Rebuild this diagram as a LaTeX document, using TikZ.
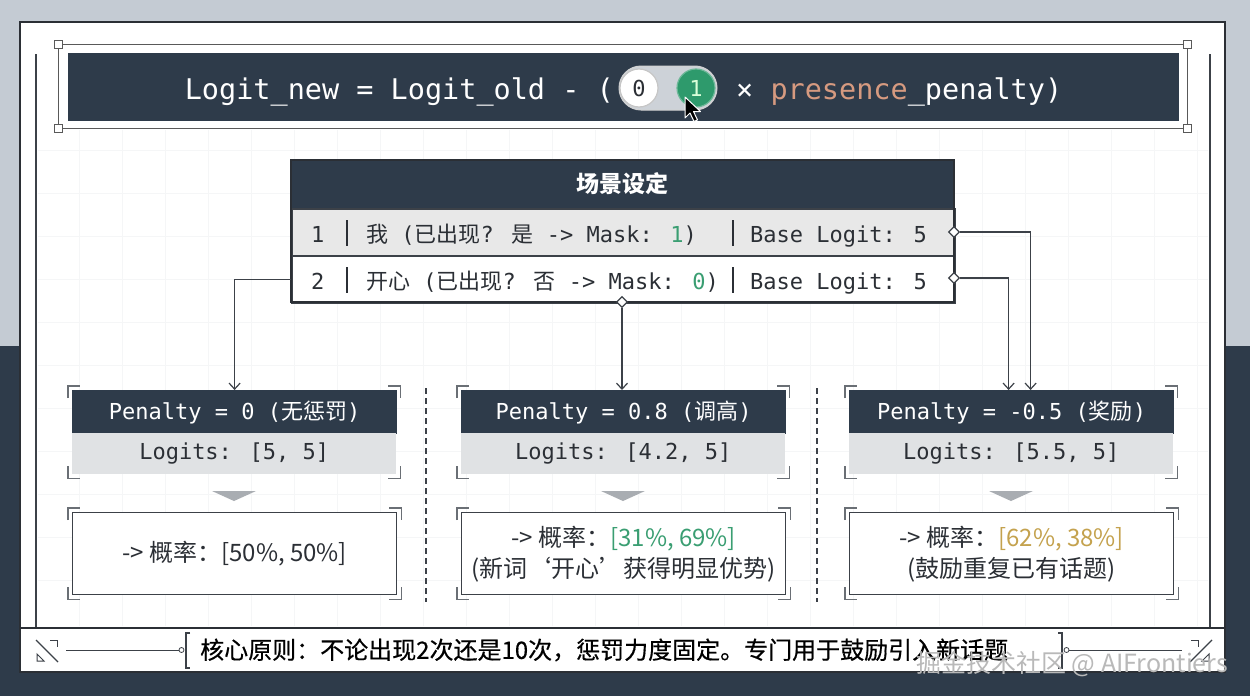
\documentclass[tikz,border=0pt]{standalone}
\usepackage{fontspec}
\setmainfont{DejaVu Sans}
\newfontfamily\mono{DejaVu Sans Mono}
\newfontfamily\cjk{Noto Sans CJK SC}
\newfontfamily\cjkfb{Noto Sans CJK SC}[FakeBold=0.5]
\usetikzlibrary{arrows.meta,shapes.geometric,calc}
\newcommand\zh[1]{{\cjk #1}}
\definecolor{bgtop}{HTML}{C4CBD3}
\definecolor{navy}{HTML}{2E3B4A}
\definecolor{ink}{HTML}{2B2F35}
\definecolor{linec}{HTML}{3C4148}
\definecolor{rowgray}{HTML}{E8E8E8}
\definecolor{logitgray}{HTML}{E0E2E4}
\definecolor{mgreen}{HTML}{2E9A6C}
\definecolor{tgreen}{HTML}{3A9E72}
\definecolor{gold}{HTML}{C4A24E}
\definecolor{salmon}{HTML}{D69A80}
\definecolor{trackc}{HTML}{CDD2D8}
\definecolor{brkc}{HTML}{6A6F75}
\definecolor{tric}{HTML}{A9ADB2}
\definecolor{gridc}{HTML}{F5F6F7}
\tikzset{
  hdrbox/.style={fill=navy, draw=navy, line width=1.2, inner sep=0, anchor=north west},
  rowbox/.style={draw=linec, line width=1.6, inner sep=0, anchor=north west},
  logitbox/.style={fill=logitgray, inner sep=0, anchor=north west, minimum width=324, minimum height=41},
  resbox/.style={fill=white, draw=linec, line width=1.4, inner sep=0, anchor=north west, minimum width=324, minimum height=82},
  bhdr/.style={hdrbox, minimum width=324, minimum height=43},
  wtxt/.style={text=white, font=\mono\fontsize{22}{26}\selectfont},
  dtxt/.style={text=ink, font=\mono\fontsize{22}{26}\selectfont},
  restxt/.style={text=ink, align=center, font=\cjk\fontsize{24}{31}\selectfont},
  conn/.style={draw=linec, line width=1.3, -{Straight Barb[length=6pt,width=11pt,line width=1.2pt]}},
  dmark/.style={diamond, draw=linec, fill=white, line width=1.2, minimum width=11, minimum height=11, inner sep=0},
  brkst/.style={draw=brkc, line width=1.6},
  divl/.style={draw=ink, line width=1.3},
  sep/.style={draw=linec, line width=1.2, dash pattern=on 6pt off 4pt},
  tri/.style={fill=tric},
}
% corner brackets around the region spanned by two nodes' anchors
\newcommand\brk[2]{%
  \path (#1) ++(-4,-4) coordinate (tl);
  \path (#2) ++(4,4) coordinate (br);
  \draw[brkst] ($(tl)+(0,12)$) -- (tl) -- ++(12,0);
  \draw[brkst] ($(tl -| br)+(-12,0)$) -- (tl -| br) -- ++(0,12);
  \draw[brkst] ($(tl |- br)+(0,-12)$) -- (tl |- br) -- ++(12,0);
  \draw[brkst] ($(br)+(-12,0)$) -- (br) -- ++(0,-12);
}
\begin{document}
\begin{tikzpicture}[x=1pt,y=-1pt]
\useasboundingbox (0,0) rectangle (1250,696);
% background bands
\fill[bgtop] (0,0) rectangle (1250,346);
\fill[navy] (0,346) rectangle (1250,696);
% main panel
\draw[fill=white, draw=ink, line width=1.6] (20,22) rectangle (1225,672);
% faint grid
\foreach \gx in {79,122,...,1200} \draw[gridc, line width=0.6] (\gx,130) -- (\gx,626);
\foreach \gy in {150,193,...,620} \draw[gridc, line width=0.6] (38,\gy) -- (1208,\gy);
% inner vertical rails
\draw[linec, line width=1.2] (36,54) -- (36,628);
\draw[linec, line width=1.2] (1210,54) -- (1210,628);
% bottom strip separator
\draw[ink, line width=1.6] (20,628) -- (1225,628);

% ---------- formula banner ----------
\draw[gray!70!black, line width=1] (58,44) rectangle (1187,128);
\foreach \hx/\hy in {58/44,58/128,1187/44,1187/128}
  \draw[fill=white, draw=gray!70!black, line width=1] (\hx-4,\hy-4) rectangle (\hx+4,\hy+4);
\node[hdrbox, minimum width=1110, minimum height=67] (formula) at (68,53) {};
\node[anchor=base east, text=white, font=\mono\fontsize{28.5}{32}\selectfont, inner sep=0] (fleft) at (614,99) {Logit\_new = Logit\_old - (};
\draw[fill=trackc, draw=gray!35, line width=1, rounded corners=22] (619,66) rectangle (717,110);
\node[circle, fill=white, draw=gray!45, line width=1.2, minimum size=38, inner sep=0, text=ink, font=\mono\fontsize{22}{24}\selectfont] (tog0) at (639,88) {0};
\node[circle, fill=mgreen, draw=mgreen!70!white, line width=1.2, minimum size=38, inner sep=0, text=green!15!white, font=\mono\fontsize{22}{24}\selectfont] (tog1) at (696,88) {1};
\draw[fill=black, draw=white, line width=1, line join=round] (685,97) -- ++(0,21) -- ++(5,-5) -- ++(4,8.5) -- ++(3.5,-1.6) -- ++(-4,-8.4) -- ++(7,0) -- cycle;
\node[anchor=base west, text=white, font=\mono\fontsize{28.5}{32}\selectfont, inner sep=0] (fright) at (736,99) {×\ \textcolor{salmon}{presence}\_penalty)};

% ---------- scene table ----------
\node[hdrbox, minimum width=663, minimum height=48] (sthead) at (291,160) {};
\node[text=white, font=\cjk\bfseries\fontsize{23}{26}\selectfont] (sttitle) at (622,184) {场景设定};
\node[rowbox, fill=rowgray, minimum width=663, minimum height=47] (row1) at (291,208) {};
\node[rowbox, fill=white, minimum width=663, minimum height=47] (row2) at (291,255) {};
\draw[ink, line width=1.6] (291,160) rectangle (954,302);
% row 1
\node[dtxt, anchor=base west, inner sep=0] (r1a) at (311,242) {1};
\draw[divl] (347,220) -- (347,246);
\node[dtxt, anchor=base west, inner sep=0] (r1b) at (366,242) {\zh{我} (\zh{已出现}? \zh{是} -> Mask: \textcolor{tgreen}{1})};
\draw[divl] (733,220) -- (733,246);
\node[dtxt, anchor=base west, inner sep=0] (r1c) at (750,242) {Base Logit: 5};
% row 2
\node[dtxt, anchor=base west, inner sep=0] (r2a) at (311,289) {2};
\draw[divl] (347,267) -- (347,293);
\node[dtxt, anchor=base west, inner sep=0] (r2b) at (366,289) {\zh{开心} (\zh{已出现}? \zh{否} -> Mask: \textcolor{tgreen}{0})};
\draw[divl] (733,267) -- (733,293);
\node[dtxt, anchor=base west, inner sep=0] (r2c) at (750,289) {Base Logit: 5};
% markers
\node[dmark] (dm1) at (954,232) {};
\node[dmark] (dm2) at (954,278) {};
\node[dmark] (dmB) at (622,302) {};

% ---------- case boxes ----------
% box 1
\node[bhdr] (b1h) at (72,390) {};
\node[wtxt] (b1ht) at (b1h.center) {Penalty = 0 (\zh{无惩罚})};
\node[logitbox] (b1l) at (72,433) {};
\node[dtxt] (b1lt) at (b1l.center) {Logits: [5, 5]};
\brk{b1h.north west}{b1l.south east}
\fill[tri] (212,491) -- (256,491) -- (234,501) -- cycle;
\node[resbox] (b1r) at (72,512) {};
\brk{b1r.north west}{b1r.south east}
\node[restxt] (b1rt) at (b1r.center) {-> 概率：[50\%, 50\%]};
% box 2
\node[bhdr] (b2h) at (461,390) {};
\node[wtxt] (b2ht) at (b2h.center) {Penalty = 0.8 (\zh{调高})};
\node[logitbox] (b2l) at (461,433) {};
\node[dtxt] (b2lt) at (b2l.center) {Logits: [4.2, 5]};
\brk{b2h.north west}{b2l.south east}
\fill[tri] (601,491) -- (645,491) -- (623,501) -- cycle;
\node[resbox] (b2r) at (461,512) {};
\brk{b2r.north west}{b2r.south east}
\node[restxt] (b2rt) at (b2r.center) {-> 概率：\textcolor{tgreen}{[31\%, 69\%]}\\(新词‘开心’获得明显优势)};
% box 3
\node[bhdr] (b3h) at (849,390) {};
\node[wtxt] (b3ht) at (b3h.center) {Penalty = -0.5 (\zh{奖励})};
\node[logitbox] (b3l) at (849,433) {};
\node[dtxt] (b3lt) at (b3l.center) {Logits: [5.5, 5]};
\brk{b3h.north west}{b3l.south east}
\fill[tri] (989,491) -- (1033,491) -- (1011,501) -- cycle;
\node[resbox] (b3r) at (849,512) {};
\brk{b3r.north west}{b3r.south east}
\node[restxt] (b3rt) at (b3r.center) {-> 概率：\textcolor{gold}{[62\%, 38\%]}\\(鼓励重复已有话题)};
% dashed separators
\draw[sep] (426,388) -- (426,602);
\draw[sep] (817,388) -- (817,602);

% ---------- connectors ----------
\draw[conn] (row2.west) -| (b1h.north);
\draw[conn] (dmB.south) -- (dmB.south |- b2h.north);
\draw[conn] (dm2.east) -| ([xshift=-3]b3h.north);
\draw[conn] (dm1.east) -| ([xshift=19]b3h.north);

% ---------- bottom strip ----------
\draw[linec, line width=1.1] (36,640) -- (58,662);
\draw[linec, line width=1] (50,640) -- (57,640) -- (57,647);
\draw[linec, line width=1] (37,654) -- (37,661) -- (44,661) -- cycle;
\draw[linec, line width=1] (66,650) -- (179,650);
\draw[linec, fill=white, line width=0.8] (181.5,650) circle (2.5);
\draw[linec, line width=1.2] (190,633) -- (186,633) -- (186,668) -- (190,668);
\node[anchor=west, text=black, font=\cjkfb\fontsize{24}{28}\selectfont, inner sep=0] (principle) at (200,650) {核心原则：不论出现2次还是10次，惩罚力度固定。专门用于鼓励引入新话题};
\draw[linec, line width=1.2] (1058,633) -- (1062,633) -- (1062,668) -- (1058,668);
\draw[linec, fill=white, line width=0.8] (1066.5,650) circle (2.5);
\draw[linec, line width=1] (1069,650) -- (1182,650);
\draw[linec, line width=1.1] (1212,640) -- (1190,662);
\draw[linec, line width=1] (1191,640) -- (1198,640) -- (1198,647);
\draw[linec, line width=1] (1202,661) -- (1209,661) -- (1209,654) -- cycle;
% watermark
\node[anchor=base west, text=gray!55, font=\cjk\fontsize{25}{28}\selectfont, inner sep=0] (wm) at (916,672) {掘金技术社区 @ AIFrontiers};
\end{tikzpicture}
\end{document}
